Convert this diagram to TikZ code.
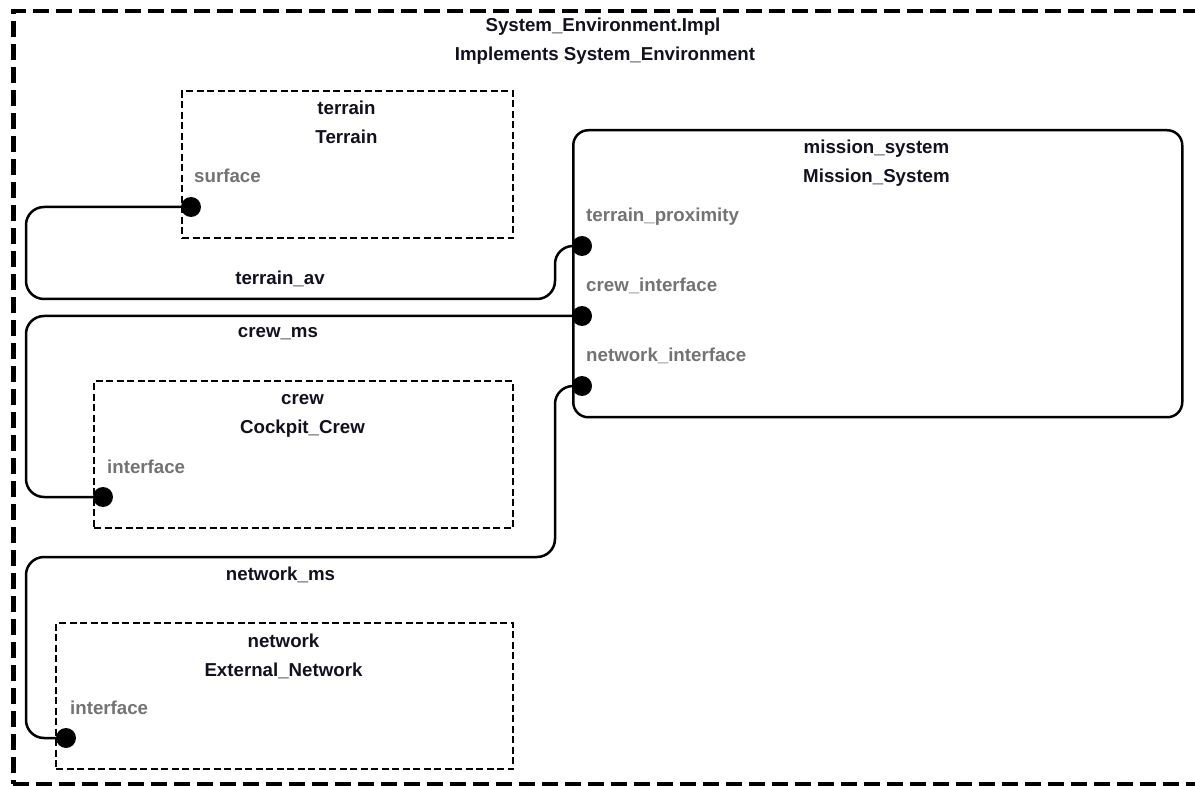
\documentclass[tikz,border=0pt]{standalone}
\usepackage{fontspec}
\setmainfont{Liberation Sans}
\definecolor{titlecol}{HTML}{111122}
\definecolor{portgray}{HTML}{737373}
\begin{document}
\begin{tikzpicture}[x=1pt,y=-1pt,
  txt/.style={font=\fontsize{18.7}{22}\selectfont\bfseries, inner sep=0pt},
  title/.style={txt, text=titlecol, anchor=base},
  portlbl/.style={txt, text=portgray, anchor=base west},
  wirelbl/.style={txt, text=titlecol, anchor=base},
  envbox/.style={draw=black, line width=4.5pt, dash pattern=on 16pt off 7pt, anchor=north west, inner sep=0pt},
  subbox/.style={draw=black, line width=2.2pt, dash pattern=on 7pt off 3.5pt, anchor=north west, inner sep=0pt},
  sysbox/.style={draw=black, line width=2.5pt, rounded corners=15pt, anchor=north west, inner sep=0pt},
  port/.style={circle, fill=black, minimum size=20pt, inner sep=0pt},
  wire/.style={draw=black, line width=2.5pt, rounded corners=18pt},
]
\useasboundingbox (0,0) rectangle (1195,786);

% enclosing implementation
\node[envbox, minimum width=1184pt, minimum height=773pt] (env) at (11,9) {};
\node[title] (envname) at (603,32) {System\_Environment.Impl};
\node[title] (envimpl) at (605,61) {Implements System\_Environment};

% subcomponents
\node[subbox, minimum width=331pt, minimum height=147pt] (terrain) at (181,90) {};
\node[title] (terrainname) at (346.5,115) {terrain};
\node[title] (terraintype) at (346.5,143.5) {Terrain};

\node[sysbox, minimum width=609pt, minimum height=287pt] (mission) at (572,129) {};
\node[title] (missionname) at (876.5,154) {mission\_system};
\node[title] (missiontype) at (876.5,183) {Mission\_System};

\node[subbox, minimum width=419pt, minimum height=147pt] (crew) at (93,380) {};
\node[title] (crewname) at (302.5,405) {crew};
\node[title] (crewtype) at (302.5,434) {Cockpit\_Crew};

\node[subbox, minimum width=457pt, minimum height=146pt] (network) at (55,622) {};
\node[title] (netname) at (283.5,647) {network};
\node[title] (nettype) at (283.5,676) {External\_Network};

% bend points of the connections
\coordinate (a1) at (26,299);
\coordinate (b1) at (555,246);
\coordinate (a2) at (26,497);
\coordinate (b3) at (555,557);
\coordinate (a3) at (26,738);

% port positions
\coordinate (surfpos) at (191,207);
\coordinate (tppos) at (582,246);
\coordinate (cipos) at (582,316);
\coordinate (nipos) at (582,386);
\coordinate (cppos) at (103,497);
\coordinate (nppos) at (66,738);

% connections
\path[wire] (surfpos) -| (a1) -| (b1) -- (tppos);
\path[wire] (cipos) -| (a2) -- (cppos);
\path[wire] (nipos) -| (b3) -| (a3) -- (nppos);

\node[wirelbl] (terrainav) at (280,285) {terrain\_av};
\node[wirelbl] (crewms) at (278,338) {crew\_ms};
\node[wirelbl] (networkms) at (280.5,580) {network\_ms};

% ports
\node[port] (surf) at (surfpos) {};
\node[port] (tp) at (tppos) {};
\node[port] (ci) at (cipos) {};
\node[port] (ni) at (nipos) {};
\node[port] (cp) at (cppos) {};
\node[port] (np) at (nppos) {};

\node[portlbl] (surflbl) at (194,183) {surface};
\node[portlbl] (tplbl) at (586,222) {terrain\_proximity};
\node[portlbl] (cilbl) at (586,292) {crew\_interface};
\node[portlbl] (nilbl) at (586,362) {network\_interface};
\node[portlbl] (cplbl) at (107,473) {interface};
\node[portlbl] (nplbl) at (70,714) {interface};
\end{tikzpicture}
\end{document}
